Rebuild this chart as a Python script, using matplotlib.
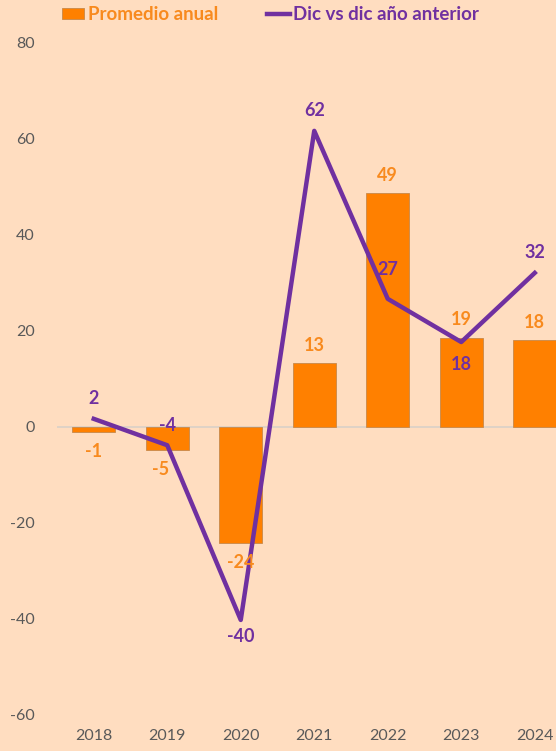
import matplotlib.pyplot as plt
import numpy as np

years = ['2018', '2019', '2020', '2021', '2022', '2023', '2024']
promedio = [-1.0, -4.8, -24.2, 13.3, 48.7, 18.6, 18.1]
dic_vs_dic = [1.7, -3.8, -40.2, 61.7, 26.7, 17.7, 32.1]
promedio_lbl = ['-1', '-5', '-24', '13', '49', '19', '18']
dic_lbl = ['2', '-4', '-40', '62', '27', '18', '32']

# label offsets (points) for the line labels
dic_off = [15, 14, -12, 15, 21, -16, 15]

bg = '#FFDDC0'
orange = '#FF8000'
orange_txt = '#F88A1E'
purple = '#7030A0'

plt.rcParams['font.family'] = ['Lato', 'DejaVu Sans']
plt.rcParams['axes.unicode_minus'] = False

fig = plt.figure(figsize=(5.56, 7.51), dpi=100)
fig.patch.set_facecolor(bg)
ax = fig.add_axes([57/556, 36/751, 514.5/556, 672/751])
ax.set_facecolor(bg)

x = np.arange(len(years))
bars = ax.bar(x, promedio, width=0.58, color=orange, edgecolor='#C8884A', linewidth=0.6, zorder=2)
line, = ax.plot(x, dic_vs_dic, color=purple, linewidth=3.2, zorder=3)
ax.axhline(0, color='#D9D0C8', linewidth=1.2, zorder=1)

for i in range(len(years)):
    v = promedio[i]
    off = 13 if v >= 0 else -14
    dx = -5 if i == 1 else 0
    ax.annotate(promedio_lbl[i], (x[i], v), xytext=(dx, off), textcoords='offset points',
                ha='center', va='center', color=orange_txt, fontsize=13, fontweight='bold', zorder=4)
    ax.annotate(dic_lbl[i], (x[i], dic_vs_dic[i]), xytext=(0, dic_off[i]), textcoords='offset points',
                ha='center', va='center', color=purple, fontsize=13, fontweight='bold', zorder=4)

ax.set_xlim(-0.5, len(years) - 0.5)
ax.set_ylim(-60, 80)
ax.set_yticks(range(-60, 81, 20))
ax.set_xticks(x)
ax.set_xticklabels(years)
ax.tick_params(axis='both', length=0, colors='#595959', labelsize=11.5)
ax.tick_params(axis='y', pad=16)
ax.tick_params(axis='x', pad=10)
for s in ax.spines.values():
    s.set_visible(False)

leg = fig.legend([bars, line], ['Promedio anual', 'Dic vs dic año anterior'],
                 loc='upper left', bbox_to_anchor=(45/556, 1.014), ncol=2, frameon=False,
                 handlelength=1.2, handleheight=0.55, handletextpad=0.2, columnspacing=2.6,
                 prop={'weight': 'bold', 'size': 13.5})
for t, c in zip(leg.get_texts(), [orange_txt, purple]):
    t.set_color(c)

fig.savefig('out.png', dpi=100, facecolor=bg)
